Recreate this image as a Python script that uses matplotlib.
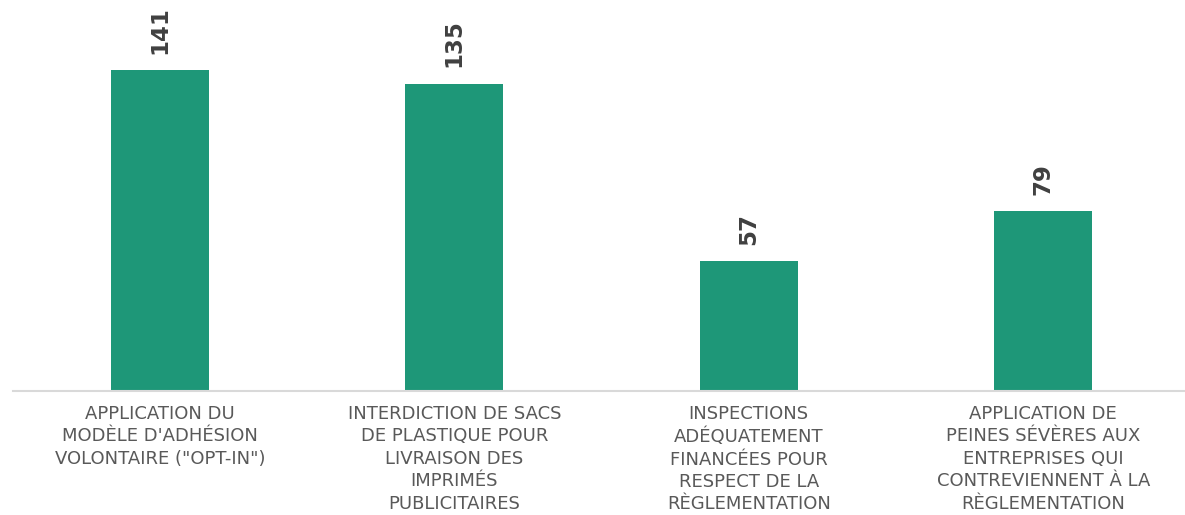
import matplotlib
matplotlib.use("Agg")
import matplotlib.pyplot as plt

categories = [
    "APPLICATION DU\nMODÈLE D'ADHÉSION\nVOLONTAIRE (\"OPT-IN\")",
    "INTERDICTION DE SACS\nDE PLASTIQUE POUR\nLIVRAISON DES\nIMPRIMÉS\nPUBLICITAIRES",
    "INSPECTIONS\nADÉQUATEMENT\nFINANCÉES POUR\nRESPECT DE LA\nRÈGLEMENTATION",
    "APPLICATION DE\nPEINES SÉVÈRES AUX\nENTREPRISES QUI\nCONTREVIENNENT À LA\nRÈGLEMENTATION",
]
values = [141, 135, 57, 79]

fig = plt.figure(figsize=(11.85, 5.15), dpi=100)
ax = fig.add_axes([12.5 / 1185, 124 / 515, 1178 / 1185, 391 / 515])

x = list(range(len(values)))
bars = ax.bar(x, values, width=0.333, color="#1E9778")
ax.set_xlim(-0.5, len(values) - 0.5)
ax.set_ylim(0, 172)

for rect, v in zip(bars, values):
    ax.annotate(str(v), (rect.get_x() + rect.get_width() / 2, rect.get_height()),
                xytext=(0, 12), textcoords="offset points",
                ha="center", va="bottom", rotation=90,
                fontsize=16.5, fontweight="heavy", color="#404040")

ax.set_xticks(x)
ax.set_xticklabels(categories, fontsize=13, color="#595959", linespacing=1.32,
                   family="DejaVu Sans")
ax.tick_params(axis="x", length=0, pad=10)
ax.set_yticks([])
for s in ["top", "right", "left"]:
    ax.spines[s].set_visible(False)
ax.spines["bottom"].set_color("#d9d9d9")
ax.spines["bottom"].set_linewidth(1.5)

fig.savefig("out.png", dpi=100)
